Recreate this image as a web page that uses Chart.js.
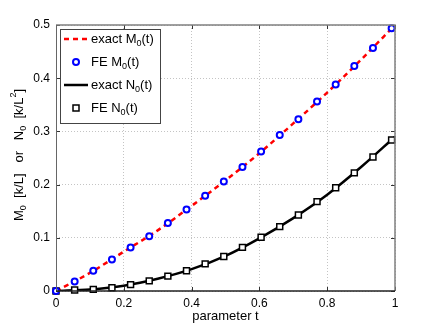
<!DOCTYPE html>
<html>
<head>
<meta charset="utf-8">
<script src="https://cdn.jsdelivr.net/npm/chart.js@4"></script>
<style>
  html, body { margin: 0; padding: 0; background: #fff; }
  #wrap { width: 436px; height: 327px; }
</style>
</head>
<body>
<div id="wrap"><canvas id="chart" width="436" height="327"></canvas></div>
<script>
// FE sample points
const feT = [0, 0.055, 0.11, 0.165, 0.22, 0.275, 0.33, 0.385, 0.44, 0.495,
             0.55, 0.605, 0.66, 0.715, 0.77, 0.825, 0.88, 0.935, 0.99];
const feM0 = [0, 0.018, 0.038, 0.059, 0.082, 0.103, 0.128, 0.153, 0.179, 0.206,
              0.233, 0.262, 0.293, 0.323, 0.356, 0.388, 0.423, 0.457, 0.494];
const feN0 = [0, 0.002, 0.003, 0.006, 0.012, 0.019, 0.028, 0.038, 0.051, 0.065,
              0.082, 0.101, 0.121, 0.143, 0.168, 0.194, 0.222, 0.252, 0.284];

// exact curves
const exactT = [0, 0.1, 0.2, 0.3, 0.4, 0.5, 0.6, 0.7, 0.8, 0.9, 1.0];
const exactM0 = [0, 0.034, 0.074, 0.114, 0.160, 0.208, 0.259, 0.315, 0.373, 0.435, 0.500];
const exactN0 = [0, 0.003, 0.010, 0.023, 0.041, 0.066, 0.099, 0.137, 0.181, 0.233, 0.290];

const xTicks = [0, 0.2, 0.4, 0.6, 0.8, 1];
const yTicks = [0, 0.1, 0.2, 0.3, 0.4, 0.5];

const FONT = "'Liberation Sans', Arial, Helvetica, sans-serif";

function pts(xs, ys) {
    return xs.map((x, i) => ({ x: x, y: ys[i] }));
}

// text with sub/superscripts
function richWidth(ctx, parts, size) {
    let w = 0;
    parts.forEach(p => {
        ctx.font = (p.sub || p.sup ? Math.round(size * 0.7) : size) + "px " + FONT;
        w += ctx.measureText(p.t).width;
    });
    return w;
}

function drawRich(ctx, parts, x, y, size) {
    ctx.textBaseline = "middle";
    ctx.textAlign = "left";
    parts.forEach(p => {
        let dy = 0;
        let s = size;
        if (p.sub) { s = Math.round(size * 0.7); dy = size * 0.35; }
        if (p.sup) { s = Math.round(size * 0.7); dy = -size * 0.4; }
        ctx.font = s + "px " + FONT;
        ctx.fillText(p.t, x, y + dy);
        x += ctx.measureText(p.t).width;
    });
}

const legendItems = [
    { parts: [{ t: "exact M" }, { t: "0", sub: true }, { t: "(t)" }], kind: "dash" },
    { parts: [{ t: "FE M" }, { t: "0", sub: true }, { t: "(t)" }], kind: "circle" },
    { parts: [{ t: "exact N" }, { t: "0", sub: true }, { t: "(t)" }], kind: "line" },
    { parts: [{ t: "FE N" }, { t: "0", sub: true }, { t: "(t)" }], kind: "square" }
];

const framePlugin = {
    id: "frame",
    afterDraw(chart) {
        const ctx = chart.ctx;
        const a = chart.chartArea;
        const xs = chart.scales.x, ys = chart.scales.y;
        ctx.save();

        // inward ticks
        ctx.strokeStyle = "#333";
        ctx.lineWidth = 1;
        ctx.beginPath();
        xTicks.forEach(v => {
            const px = Math.round(xs.getPixelForValue(v)) + 0.5;
            ctx.moveTo(px, a.bottom); ctx.lineTo(px, a.bottom - 4);
            ctx.moveTo(px, a.top); ctx.lineTo(px, a.top + 4);
        });
        yTicks.forEach(v => {
            const py = Math.round(ys.getPixelForValue(v)) + 0.5;
            ctx.moveTo(a.left, py); ctx.lineTo(a.left + 4, py);
            ctx.moveTo(a.right, py); ctx.lineTo(a.right - 4, py);
        });
        ctx.stroke();

        // box
        ctx.lineWidth = 1.5;
        ctx.strokeStyle = "#808080";
        ctx.beginPath();
        ctx.moveTo(a.left, a.top); ctx.lineTo(a.right, a.top); ctx.lineTo(a.right, a.bottom);
        ctx.stroke();
        ctx.lineWidth = 1;
        ctx.strokeStyle = "#666";
        ctx.beginPath();
        ctx.moveTo(a.left + 0.5, a.top); ctx.lineTo(a.left + 0.5, a.bottom);
        ctx.stroke();
        ctx.lineWidth = 1.5;
        ctx.strokeStyle = "#222";
        ctx.beginPath();
        ctx.moveTo(a.left, a.bottom); ctx.lineTo(a.right, a.bottom);
        ctx.stroke();

        // axis titles
        ctx.fillStyle = "#000";
        ctx.font = "13px " + FONT;
        ctx.textAlign = "center";
        ctx.textBaseline = "middle";
        ctx.fillText("parameter t", (a.left + a.right) / 2, 316);

        const yTitle = [{ t: "M" }, { t: "0", sub: true }, { t: "  [k/L]   or   N" }, { t: "0", sub: true },
                        { t: "  [k/L" }, { t: "2", sup: true }, { t: "]" }];
        const w = richWidth(ctx, yTitle, 13);
        ctx.save();
        ctx.translate(19, 155);
        ctx.rotate(-Math.PI / 2);
        drawRich(ctx, yTitle, -w / 2, 0, 13);
        ctx.restore();

        // legend
        const lx = 60, ly = 29, lw = 100, lh = 94;
        ctx.fillStyle = "#fff";
        ctx.fillRect(lx, ly, lw, lh);
        ctx.strokeStyle = "#444";
        ctx.lineWidth = 1;
        ctx.strokeRect(lx + 0.5, ly + 0.5, lw, lh);
        const rows = [39, 62, 85, 108];
        legendItems.forEach((it, i) => {
            const y = rows[i];
            ctx.save();
            if (it.kind === "dash" || it.kind === "line") {
                ctx.lineWidth = 2.5;
                ctx.strokeStyle = it.kind === "dash" ? "#ff0000" : "#000";
                ctx.setLineDash(it.kind === "dash" ? [5, 4] : []);
                ctx.beginPath();
                ctx.moveTo(64, y); ctx.lineTo(88, y);
                ctx.stroke();
            } else if (it.kind === "circle") {
                ctx.lineWidth = 2;
                ctx.strokeStyle = "#0000ff";
                ctx.fillStyle = "#fff";
                ctx.beginPath();
                ctx.arc(76, y, 3, 0, Math.PI * 2);
                ctx.fill(); ctx.stroke();
            } else {
                ctx.lineWidth = 1.5;
                ctx.strokeStyle = "#000";
                ctx.fillStyle = "#fff";
                ctx.fillRect(73, y - 3, 6, 6);
                ctx.strokeRect(73, y - 3, 6, 6);
            }
            ctx.restore();
            ctx.fillStyle = "#000";
            drawRich(ctx, it.parts, 91, y, 13);
        });

        ctx.restore();
    }
};

const ctx = document.getElementById("chart").getContext("2d");

const chart = new Chart(ctx, {
    type: "scatter",
    data: {
        datasets: [
            {
                label: "exact M0(t)",
                data: pts(exactT, exactM0),
                showLine: true,
                borderColor: "#ff0000",
                borderWidth: 2.5,
                borderDash: [5, 4],
                pointRadius: 0,
                cubicInterpolationMode: "monotone",
                order: 2
            },
            {
                label: "FE M0(t)",
                data: pts(feT, feM0),
                showLine: false,
                pointStyle: "circle",
                pointRadius: 3,
                pointBorderWidth: 2,
                pointBorderColor: "#0000ff",
                pointBackgroundColor: "#fff",
                clip: false,
                order: 0
            },
            {
                label: "exact N0(t)",
                data: pts(exactT, exactN0),
                showLine: true,
                borderColor: "#000",
                borderWidth: 2.5,
                pointRadius: 0,
                cubicInterpolationMode: "monotone",
                order: 1
            },
            {
                label: "FE N0(t)",
                data: pts(feT, feN0),
                showLine: false,
                pointStyle: "rect",
                pointRadius: 4.2,
                pointBorderWidth: 1.5,
                pointBorderColor: "#000",
                pointBackgroundColor: "#fff",
                clip: false,
                order: 0
            }
        ]
    },
    options: {
        responsive: false,
        animation: false,
        devicePixelRatio: 1,
        layout: { padding: { top: 25, right: 41, left: 0, bottom: 0 } },
        plugins: {
            legend: { display: false },
            tooltip: { enabled: false }
        },
        scales: {
            x: {
                type: "linear",
                min: 0,
                max: 1,
                afterFit(scale) { scale.height = 36; },
                afterBuildTicks(scale) { scale.ticks = xTicks.map(v => ({ value: v })); },
                ticks: {
                    padding: 5,
                    color: "#000",
                    font: { family: FONT, size: 12 },
                    callback: v => String(Number(v.toFixed(1)))
                },
                grid: { color: "#c4c4c4", lineWidth: 1, drawTicks: false },
                border: { display: false, dash: [1, 2] }
            },
            y: {
                type: "linear",
                min: 0,
                max: 0.5,
                afterFit(scale) { scale.width = 56; },
                afterBuildTicks(scale) { scale.ticks = yTicks.map(v => ({ value: v })); },
                ticks: {
                    padding: 6,
                    color: "#000",
                    font: { family: FONT, size: 12 },
                    callback: v => String(Number(v.toFixed(1)))
                },
                grid: { color: "#c4c4c4", lineWidth: 1, drawTicks: false },
                border: { display: false, dash: [1, 2] }
            }
        }
    },
    plugins: [framePlugin]
});
</script>
</body>
</html>
